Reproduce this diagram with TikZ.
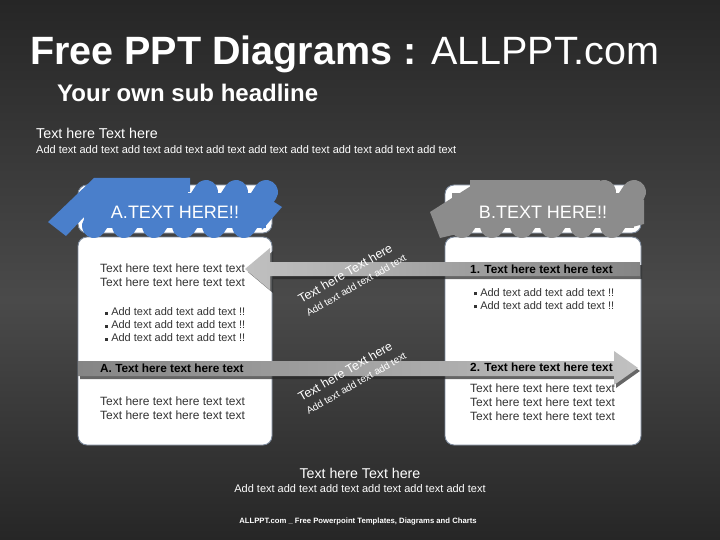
\documentclass[tikz,border=0pt]{standalone}
\usepackage{fontspec}
\setmainfont{Liberation Sans}
\usetikzlibrary{positioning,calc}
\definecolor{bgdark}{HTML}{262626}
\definecolor{bgmid}{HTML}{4A4A4A}
\definecolor{blueink}{HTML}{4A7FCB}
\definecolor{grayink}{HTML}{8C8C8C}
\definecolor{boxedge}{HTML}{7D8A9C}
\definecolor{textgray}{HTML}{333333}
\definecolor{barlight}{HTML}{C8C8C8}
\definecolor{bardark}{HTML}{858585}
\newcommand\sqbul{\raisebox{0.2ex}{\rule{3pt}{3pt}}\ }
\tikzset{
        panel/.style = {draw=boxedge, fill=white, rounded corners=9pt,
            line width=0.9pt},
        brushline/.style = {draw=#1, line width=24pt, line cap=round},
        headtxt/.style = {text=white, font=\fontsize{18}{20}\selectfont},
        bodytxt/.style = {text=textgray, anchor=west, align=left, inner sep=0pt,
            font=\fontsize{12}{14}\selectfont},
        bullettxt/.style = {bodytxt, font=\fontsize{11}{13}\selectfont},
        bartxt/.style = {text=black, anchor=west, inner sep=0pt,
            font=\bfseries\fontsize{11.8}{13}\selectfont},
        slanttxt/.style = {text=white, rotate=30, inner sep=0pt, align=left},
        lighttxt/.style = {text=white, inner sep=0pt},
    }

\begin{document}
\begin{tikzpicture}[x=1pt,y=-1pt]
  \useasboundingbox (0,0) rectangle (720,540);
  \shade[top color=bgdark, bottom color=bgmid] (0,0) rectangle (720,300);
  \shade[top color=bgmid, bottom color=bgdark] (0,300) rectangle (720,540);

  % headings
  \node[lighttxt, anchor=base west, font=\fontsize{39.5}{42}\selectfont] (title) at (30,65)
       {\textbf{Free PPT Diagrams :} ALLPPT.com};
  \node[lighttxt, anchor=base west, font=\bfseries\fontsize{24}{26}\selectfont] (subtitle) at (57,102)
       {Your own sub headline};
  \node[lighttxt, anchor=base west, font=\fontsize{14.3}{16}\selectfont] (intro) at (36,139)
       {Text here Text here};
  \node[lighttxt, anchor=base west, font=\fontsize{11}{12}\selectfont] (introsub) at (36,154)
       {Add text add text add text add text add text add text add text add text add text add text};

  % panels
  \node[panel, minimum width=194pt, minimum height=48pt] (headA) at (175,209) {};
  \node[panel, minimum width=194pt, minimum height=208pt] (bodyA) at (175,341) {};
  \node[panel, minimum width=196pt, minimum height=48pt] (headB) at (543,209) {};
  \node[panel, minimum width=196pt, minimum height=208pt] (bodyB) at (543,341) {};

  % brush marks
  \fill[blueink] (84,193) rectangle (266,228);
  \foreach \x in {94,124,...,244}
    \draw[brushline=blueink] (\x,226) -- (\x+22,192);
  \fill[blueink] (48,222) -- (94,178) -- (190,178) -- (190,192) -- (104,196) -- (66,236) -- cycle;
  \fill[blueink] (255,190) -- (282,207) -- (262,230) -- cycle;

  \fill[grayink] (452,193) rectangle (634,228);
  \foreach \x in {462,492,...,612}
    \draw[brushline=grayink] (\x,226) -- (\x+22,192);
  \fill[grayink] (430,212) -- (474,184) -- (474,230) -- (440,238) -- cycle;
  \fill[grayink] (470,180) -- (600,180) -- (600,194) -- (470,194) -- cycle;
  \fill[grayink] (625,192) -- (644,200) -- (644,224) -- (628,228) -- cycle;

  \node[headtxt] (titleA) at (175,212) {A.TEXT HERE!!};
  \node[headtxt] (titleB) at (543,212) {B.TEXT HERE!!};

  % arrows
  \fill[bgdark, opacity=.7] (248,272) -- (273,251) -- (273,265) -- (642,265) -- (642,279)
       -- (273,279) -- (273,293) -- cycle;
  \shade[left color=barlight!90!gray, middle color=barlight, right color=bardark]
       (245,269) -- (270,248) -- (270,262) -- (640,262) -- (640,276) -- (270,276) -- (270,290) -- cycle;
  \fill[bgdark, opacity=.7] (80,364) -- (616,364) -- (616,354) -- (640,371) -- (616,388)
       -- (616,379) -- (80,379) -- cycle;
  \shade[left color=bardark, middle color=barlight, right color=barlight!90!gray]
       (78,361) -- (614,361) -- (614,351) -- (638,368) -- (614,385) -- (614,376) -- (78,376) -- cycle;

  % left body
  \node[bodytxt] (introA) at (100,275) {Text here text here text text\\Text here text here text text};
  \node[bullettxt] (listA) at (105,325)
       {\sqbul Add text add text add text !!\\\sqbul Add text add text add text !!\\\sqbul Add text add text add text !!};
  \node[bartxt] (barA) at (100,368) {A. Text here text here text};
  \node[bodytxt] (textA) at (100,408) {Text here text here text text\\Text here text here text text};

  % right body
  \node[bartxt] (barB1) at (470,269) {1. Text here text here text};
  \node[bullettxt] (listB) at (474,299)
       {\sqbul Add text add text add text !!\\\sqbul Add text add text add text !!};
  \node[bartxt] (barB2) at (470,367) {2. Text here text here text};
  \node[bodytxt] (textB) at (470,402)
       {Text here text here text text\\Text here text here text text\\Text here text here text text};

  % slanted notes
  \node[slanttxt] (noteA) at (352,278)
       {\fontsize{12.5}{14}\selectfont Text here Text here\\[3pt]
        \fontsize{10}{12}\selectfont Add text add text add text};
  \node[slanttxt] (noteB) at (352,376)
       {\fontsize{12.5}{14}\selectfont Text here Text here\\[3pt]
        \fontsize{10}{12}\selectfont Add text add text add text};

  % footer
  \node[lighttxt, font=\fontsize{14.2}{16}\selectfont] (outro) at (360,473) {Text here Text here};
  \node[lighttxt, font=\fontsize{11}{12}\selectfont] (outrosub) at (360,489)
       {Add text add text add text add text add text add text};
  \node[lighttxt, font=\bfseries\fontsize{7.7}{8}\selectfont] (credit) at (358,522)
       {ALLPPT.com \_ Free Powerpoint Templates, Diagrams and Charts};
\end{tikzpicture}
\end{document}
